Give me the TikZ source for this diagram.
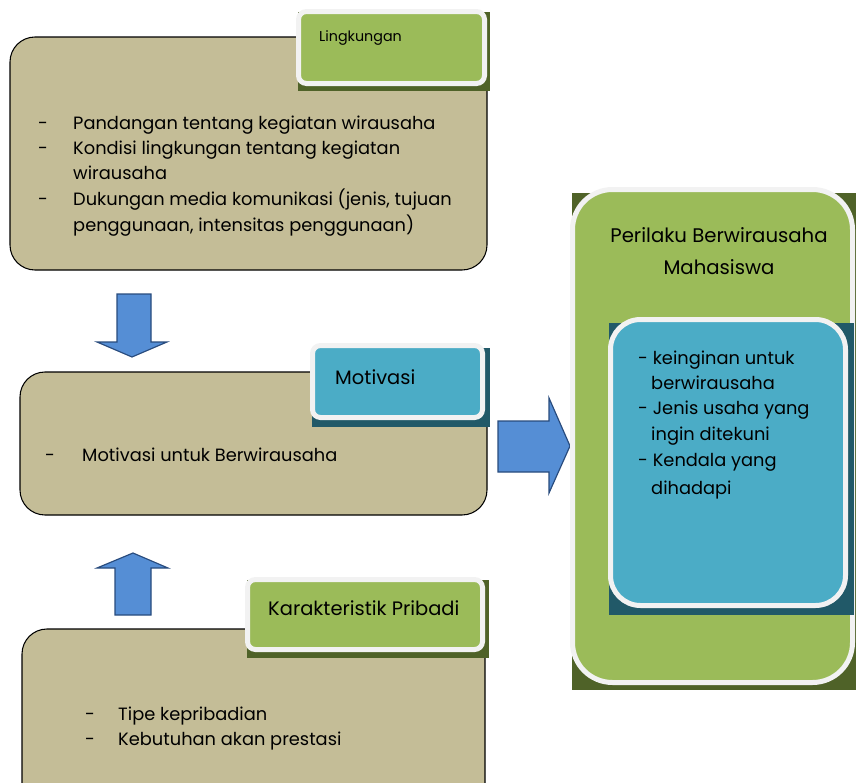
\documentclass[tikz,border=0pt]{standalone}
\usepackage{fontspec}
\setmainfont{Poppins}
\begin{document}
\begin{tikzpicture}[x=0.03cm,y=-0.03cm,
    tanbox/.style={fill=tancolor,draw=black,line width=0.9pt,rounded corners=0.75cm},
    tagframe/.style={draw=framecolor,line width=0.15cm,rounded corners=0.24cm},
    blockarrow/.style={fill=arrowfill,draw=arrowline,line width=1pt,line join=miter},
    txt/.style={anchor=base west,inner sep=0pt,font=\fontsize{15.2}{18}\selectfont},
    tagtxt/.style={anchor=base west,inner sep=0pt,font=\fontsize{16.6}{20}\selectfont}]

        % Definiere die Farben
        \definecolor{tancolor}{RGB}{196, 189, 151}
        \definecolor{framecolor}{RGB}{242, 242, 242}
        \definecolor{leafgreen}{RGB}{155, 187, 89}
        \definecolor{olivedark}{RGB}{79, 98, 40}
        \definecolor{tealblue}{RGB}{75, 172, 198}
        \definecolor{tealdark}{RGB}{33, 89, 104}
        \definecolor{arrowfill}{RGB}{85, 142, 213}
        \definecolor{arrowline}{RGB}{40, 75, 125}

        \useasboundingbox (0, 0) rectangle (856, 783);
        \clip (0, 0) rectangle (856, 783);

        % Kasten Lingkungan
        \draw[tanbox] (10, 37) rectangle (487, 270);
        \fill[olivedark] (298, 12) rectangle (490, 91);
        \draw[tagframe, fill=leafgreen] (298.5, 11.5) rectangle (484.5, 83.5);
        \node[anchor=base west, inner sep=0pt, font=\fontsize{12.2}{14}\selectfont] (lingkungan) at (319, 42) {Lingkungan};

        \node[txt] (d1) at (38, 129) {-};
        \node[txt] (pandangan) at (73, 129) {Pandangan tentang kegiatan wirausaha};
        \node[txt] (d2) at (38, 154) {-};
        \node[txt] (kondisi) at (73, 154) {Kondisi lingkungan tentang kegiatan};
        \node[txt] (kondisib) at (73, 179) {wirausaha};
        \node[txt] (d3) at (38, 205) {-};
        \node[txt] (dukungan) at (73, 205) {Dukungan media komunikasi (jenis, tujuan};
        \node[txt] (dukunganb) at (73, 231) {penggunaan, intensitas penggunaan)};

        % Pfeil nach unten
        \draw[blockarrow] (117, 294) -- (151, 294) -- (151, 342) -- (167, 342) -- (132, 357)
            -- (97, 342) -- (117, 342) -- cycle;

        % Kasten Motivasi
        \draw[tanbox] (20, 372) rectangle (487, 515);
        \fill[tealdark] (312, 348) rectangle (490, 427);
        \draw[tagframe, fill=tealblue] (312.5, 345.5) rectangle (482.5, 417.5);
        \node[tagtxt] (motivasi) at (335, 384) {Motivasi};

        \node[txt] (d4) at (45, 461) {-};
        \node[txt] (motivasib) at (82, 461) {Motivasi untuk Berwirausaha};

        % Pfeil nach rechts
        \draw[blockarrow] (498, 421) -- (549, 421) -- (549, 398) -- (570, 446) -- (549, 493)
            -- (549, 472) -- (498, 472) -- cycle;

        % Pfeil nach oben
        \draw[blockarrow] (115, 615) -- (151, 615) -- (151, 568) -- (168, 568) -- (133, 553)
            -- (97, 568) -- (115, 568) -- cycle;

        % Kasten Karakteristik Pribadi
        \draw[tanbox] (22, 629) rectangle (485, 810);
        \fill[olivedark] (247, 580) rectangle (489, 658);
        \draw[tagframe, fill=leafgreen] (247.5, 579.5) rectangle (482.5, 649.5);
        \node[tagtxt] (karakter) at (268, 615) {Karakteristik Pribadi};

        \node[txt] (d5) at (85, 720) {-};
        \node[txt] (tipe) at (118, 720) {Tipe kepribadian};
        \node[txt] (d6) at (85, 745) {-};
        \node[txt] (kebutuhan) at (118, 745) {Kebutuhan akan prestasi};

        % Kasten Perilaku Berwirausaha Mahasiswa
        \fill[olivedark] (572, 193) rectangle (856, 690);
        \draw[tagframe, fill=leafgreen, rounded corners=1.2cm] (572.5, 189.5) rectangle (852.5, 682.5);
        \node[anchor=base, inner sep=0pt, font=\fontsize{16.8}{20}\selectfont] (perilaku) at (719, 242) {Perilaku Berwirausaha};
        \node[anchor=base, inner sep=0pt, font=\fontsize{16.8}{20}\selectfont] (mahasiswa) at (719, 274) {Mahasiswa};

        \fill[tealdark] (609, 323) rectangle (854, 615);
        \draw[tagframe, fill=tealblue, rounded corners=0.9cm] (610.5, 319.5) rectangle (845.5, 605.5);
        \node[txt] (keinginan) at (638, 364) {- keinginan untuk};
        \node[txt] (keinginanb) at (651, 389) {berwirausaha};
        \node[txt] (jenis) at (638, 414) {- Jenis usaha yang};
        \node[txt] (jenisb) at (651, 440) {ingin ditekuni};
        \node[txt] (kendala) at (638, 466) {- Kendala yang};
        \node[txt] (kendalab) at (651, 494) {dihadapi};
    \end{tikzpicture}
\end{document}
